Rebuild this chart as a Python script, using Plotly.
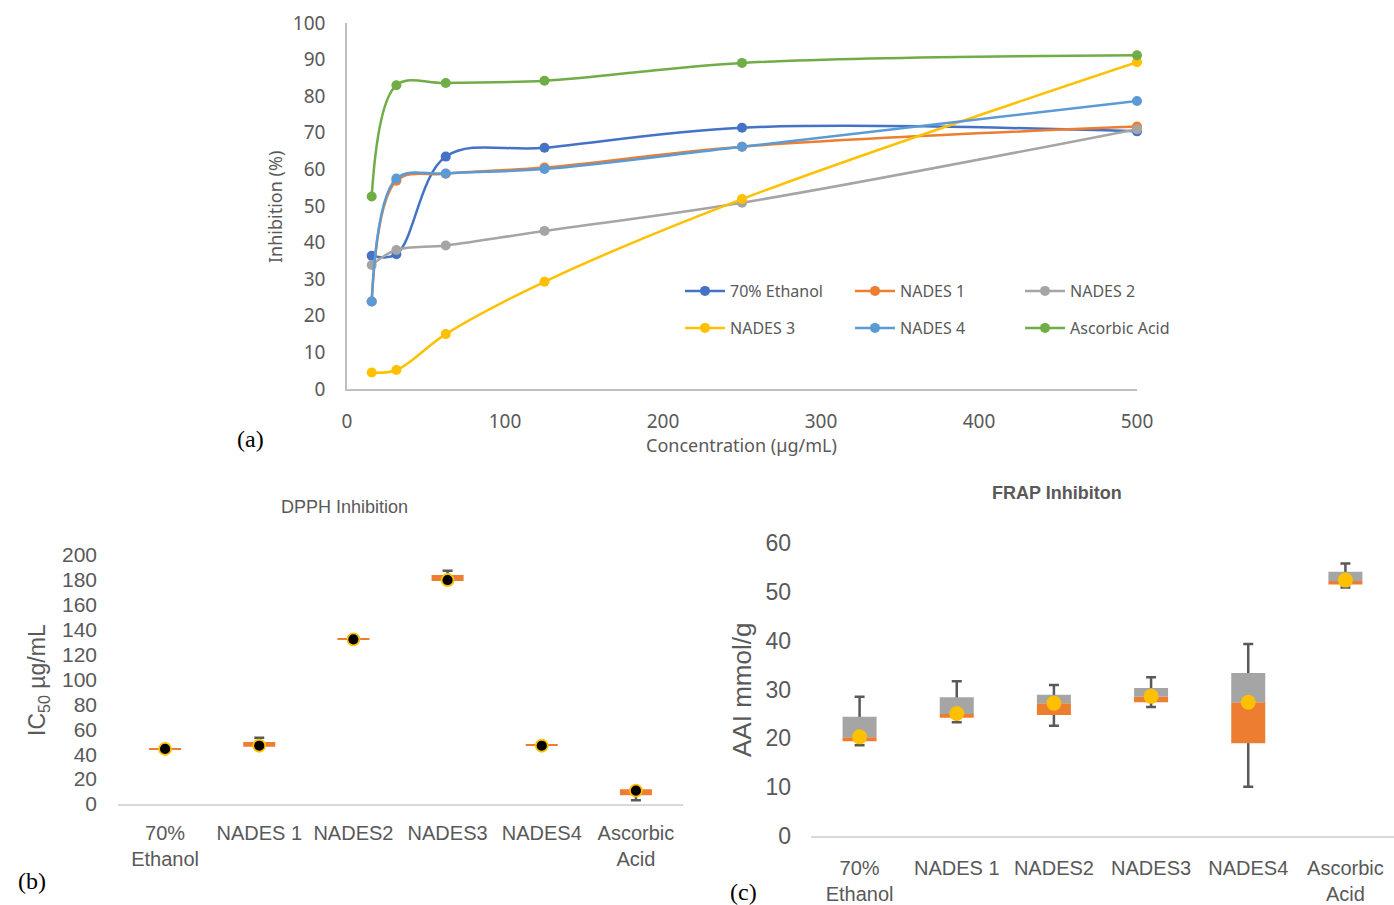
import plotly.graph_objects as go

# ---------------- (a) DPPH inhibition vs concentration ----------------
conc = [15.625, 31.25, 62.5, 125, 250, 500]
series_names = ["70% Ethanol", "NADES 1", "NADES 2", "NADES 3", "NADES 4", "Ascorbic Acid"]
ethanol70 = [36.4, 36.8, 63.5, 65.9, 71.4, 70.4]
nades1 = [23.9, 56.9, 58.8, 60.5, 66.2, 71.7]
nades2 = [33.9, 38.0, 39.2, 43.2, 50.9, 71.0]
nades3 = [4.5, 5.2, 15.0, 29.3, 51.9, 89.3]
nades4 = [23.9, 57.5, 58.9, 60.1, 66.2, 78.7]
ascorbic = [52.6, 83.0, 83.6, 84.2, 89.1, 91.2]
series_colors = ["#4472C4", "#ED7D31", "#A5A5A5", "#FFC000", "#5B9BD5", "#70AD47"]

# ---------------- (b) DPPH IC50 box plot ----------------
cats = ["70%<br>Ethanol", "NADES 1", "NADES2", "NADES3", "NADES4", "Ascorbic<br>Acid"]
dpph_low = [44.0, 46.0, 132.1, 179.1, 47.0, 7.0]
dpph_high = [44.8, 49.8, 132.9, 183.9, 47.8, 11.8]
dpph_wlow = [44.0, 46.0, 132.1, 179.1, 47.0, 3.0]
dpph_whigh = [44.8, 53.3, 132.9, 187.4, 47.8, 11.8]
dpph_mean = [44.2, 46.8, 132.3, 179.9, 46.8, 10.7]

# ---------------- (c) FRAP box plot ----------------
frap_wlow = [18.6, 23.3, 22.6, 26.4, 10.1, 50.9]
frap_q1 = [19.4, 24.2, 24.8, 27.4, 19.0, 51.5]
frap_med = [20.2, 25.0, 27.2, 28.5, 27.4, 52.2]
frap_q3 = [24.4, 28.4, 28.9, 30.3, 33.4, 54.1]
frap_whigh = [28.5, 31.7, 30.9, 32.5, 39.3, 55.8]
frap_mean = [20.3, 25.1, 27.2, 28.6, 27.4, 52.4]

ORANGE = "#ED7D31"
GRAY = "#A5A5A5"
YELLOW = "#FFC000"
WHISK = "#595959"
TXT = "#595959"
NARROW = "Liberation Sans, Arial, sans-serif"
SANS = "Noto Sans, Open Sans, sans-serif"
SERIF = "Liberation Serif, Times New Roman, serif"

W, H = 1394, 905

def px_x(p):
    return p / W

def px_y(p):
    return 1 - p / H

fig = go.Figure()

all_series = [ethanol70, nades1, nades2, nades3, nades4, ascorbic]
for i, (name, vals, col) in enumerate(zip(series_names, all_series, series_colors)):
    fig.add_trace(go.Scatter(
        x=conc, y=vals, name=name, mode="lines+markers",
        line=dict(color=col, width=2.5, shape="spline", smoothing=1.0),
        marker=dict(color=col, size=10),
        xaxis="x", yaxis="y",
        legend="legend" if i < 3 else "legend2",
        cliponaxis=False,
    ))

# (b) whiskers (drawn first, behind boxes)
fig.add_trace(go.Bar(
    x=cats, base=dpph_wlow, y=[h - l for h, l in zip(dpph_whigh, dpph_wlow)],
    width=0.34, marker=dict(color="rgba(0,0,0,0)", line=dict(width=0)),
    error_y=dict(type="data", symmetric=False, array=[0] * len(cats),
                 arrayminus=[h - l for h, l in zip(dpph_whigh, dpph_wlow)],
                 color=WHISK, thickness=2.5, width=5),
    xaxis="x2", yaxis="y2", showlegend=False, hoverinfo="skip",
))
fig.add_trace(go.Bar(
    x=cats, base=dpph_low, y=[h - l for h, l in zip(dpph_high, dpph_low)],
    width=0.34, marker=dict(color=ORANGE, line=dict(width=0)),
    xaxis="x2", yaxis="y2", showlegend=False,
))
fig.add_trace(go.Scatter(
    x=cats, y=dpph_mean, mode="markers",
    marker=dict(color="black", size=12, line=dict(color=YELLOW, width=1.8)),
    xaxis="x2", yaxis="y2", showlegend=False, cliponaxis=False,
))

# (c) whiskers, boxes, means
fig.add_trace(go.Bar(
    x=cats, base=frap_wlow, y=[h - l for h, l in zip(frap_whigh, frap_wlow)],
    width=0.35, marker=dict(color="rgba(0,0,0,0)", line=dict(width=0)),
    error_y=dict(type="data", symmetric=False, array=[0] * len(cats),
                 arrayminus=[h - l for h, l in zip(frap_whigh, frap_wlow)],
                 color=WHISK, thickness=2.5, width=5),
    xaxis="x3", yaxis="y3", showlegend=False, hoverinfo="skip",
))
fig.add_trace(go.Bar(
    x=cats, base=frap_q1, y=[m - q for m, q in zip(frap_med, frap_q1)],
    width=0.35, marker=dict(color=ORANGE, line=dict(width=0)),
    xaxis="x3", yaxis="y3", showlegend=False,
))
fig.add_trace(go.Bar(
    x=cats, base=frap_med, y=[q - m for q, m in zip(frap_q3, frap_med)],
    width=0.35, marker=dict(color=GRAY, line=dict(width=0)),
    xaxis="x3", yaxis="y3", showlegend=False,
))
fig.add_trace(go.Scatter(
    x=cats, y=frap_mean, mode="markers",
    marker=dict(color=YELLOW, size=15, line=dict(width=0)),
    xaxis="x3", yaxis="y3", showlegend=False, cliponaxis=False,
))

legend_common = dict(
    orientation="h", xanchor="left", yanchor="middle",
    entrywidth=115, entrywidthmode="pixels", itemwidth=40,
    font=dict(family=SANS, size=16, color=TXT),
    bgcolor="rgba(0,0,0,0)", borderwidth=0, tracegroupgap=0,
)

fig.update_layout(
    width=W, height=H, autosize=False,
    margin=dict(l=0, r=0, t=0, b=0, autoexpand=False),
    paper_bgcolor="white", plot_bgcolor="white",
    barmode="overlay", showlegend=True,
    legend=dict(x=px_x(680), y=px_y(291), **legend_common),
    legend2=dict(x=px_x(680), y=px_y(328), **legend_common),
    xaxis=dict(domain=[px_x(347), px_x(1137)], range=[0, 500], anchor="y",
               tickvals=[0, 100, 200, 300, 400, 500], showgrid=False, zeroline=False,
               showline=True, linecolor="#BFBFBF", linewidth=1.5, ticks="",
               ticklabelstandoff=14, automargin=False, tickangle=0,
               tickfont=dict(family=SANS, size=19, color=TXT)),
    yaxis=dict(domain=[px_y(389), px_y(23)], range=[0, 100], anchor="x",
               dtick=10, showgrid=False, zeroline=False,
               showline=True, linecolor="#BFBFBF", linewidth=1.5, ticks="",
               ticklabelstandoff=16, automargin=False,
               tickfont=dict(family=SANS, size=19, color=TXT)),
    xaxis2=dict(domain=[px_x(118), px_x(683)], range=[-0.5, 5.5], anchor="y2",
                type="category", showgrid=False, zeroline=False,
                showline=True, linecolor="#D9D9D9", linewidth=2, ticks="",
                ticklabelstandoff=10, automargin=False, tickangle=0,
                tickfont=dict(family=NARROW, size=20, color=TXT)),
    yaxis2=dict(domain=[px_y(804), px_y(555)], range=[0, 200], anchor="x2",
                dtick=20, showgrid=False, zeroline=False, showline=False, ticks="",
                ticklabelstandoff=20, automargin=False,
                tickfont=dict(family=NARROW, size=21, color=TXT)),
    xaxis3=dict(domain=[px_x(811), 1.0], range=[-0.5, 5.5], anchor="y3",
                type="category", showgrid=False, zeroline=False,
                showline=True, linecolor="#D9D9D9", linewidth=2, ticks="",
                ticklabelstandoff=13, automargin=False, tickangle=0,
                tickfont=dict(family=NARROW, size=20, color=TXT)),
    yaxis3=dict(domain=[px_y(836), px_y(543)], range=[0, 60], anchor="x3",
                dtick=10, showgrid=False, zeroline=False, showline=False, ticks="",
                ticklabelstandoff=19, automargin=False,
                tickfont=dict(family=NARROW, size=23, color=TXT)),
)

annos = [
    dict(text="Inhibition (%)", x=px_x(275), y=px_y(207), textangle=-90,
         font=dict(family=SANS, size=18, color=TXT)),
    dict(text="Concentration (µg/mL)", x=px_x(742), y=px_y(445),
         font=dict(family=SANS, size=18, color=TXT)),
    dict(text="(a)", x=px_x(250), y=px_y(439), font=dict(family=SERIF, size=24, color="black")),
    dict(text="DPPH Inhibition", x=px_x(344), y=px_y(507),
         font=dict(family=NARROW, size=18, color=TXT)),
    dict(text="IC<sub>50</sub> µg/mL", x=px_x(38), y=px_y(680), textangle=-90,
         font=dict(family=NARROW, size=23, color=TXT)),
    dict(text="(b)", x=px_x(32), y=px_y(881), font=dict(family=SERIF, size=24, color="black")),
    dict(text="<b>FRAP Inhibiton</b>", x=px_x(1057), y=px_y(493),
         font=dict(family=NARROW, size=18, color=TXT)),
    dict(text="AAI mmol/g", x=px_x(742), y=px_y(690), textangle=-90,
         font=dict(family=NARROW, size=26, color=TXT)),
    dict(text="(c)", x=px_x(743), y=px_y(892), font=dict(family=SERIF, size=24, color="black")),
]
for a in annos:
    fig.add_annotation(xref="paper", yref="paper", showarrow=False,
                       xanchor="center", yanchor="middle", **a)

fig.write_html("out.html", config={"displayModeBar": False},
               post_script="document.body.style.margin='0';document.body.style.overflow='hidden';")
